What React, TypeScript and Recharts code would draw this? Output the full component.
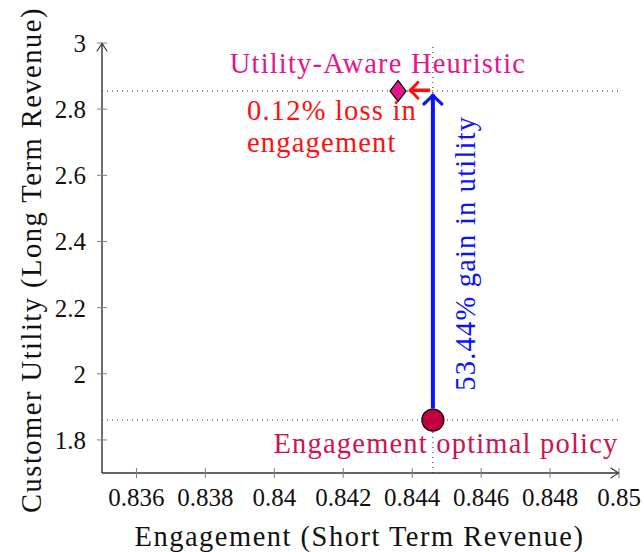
import {
  ScatterChart, Scatter, XAxis, YAxis, ReferenceLine, ReferenceDot,
} from 'recharts'

// engagement (x) and customer utility (y) for the two policies
const policyNames = ['Utility-Aware Heuristic', 'Engagement optimal policy']
const engagement = [0.84359, 0.8446]
const utility = [2.855, 1.86]

const xTicks = [0.836, 0.838, 0.84, 0.842, 0.844, 0.846, 0.848, 0.85]
const yTicks = [1.8, 2, 2.2, 2.4, 2.6, 2.8, 3]
const xDomain = [0.835, 0.85]
const yDomain = [1.7, 3]

// annotation texts and their anchors in data space
const noteText = ['Utility-Aware Heuristic', '0.12% loss in', 'engagement', '53.44% gain in utility', 'Engagement optimal policy']
const noteX = [0.843007, 0.839207, 0.839207, 0.845821, 0.84498]
const noteY = [2.91, 2.7676, 2.6706, 2.3645, 1.7615]

// arrow ends: gain in utility (vertical) and loss in engagement (horizontal)
const gainArrow = [{ x: 0.8446, y: 1.895 }, { x: 0.8446, y: 2.843 }]
const lossArrow = [{ x: 0.84452, y: 2.857 }, { x: 0.843935, y: 2.857 }]

const FONT = 'Liberation Serif, DejaVu Serif, Times New Roman, Tinos, serif'
const MAGENTA = '#e5168d'
const CRIMSON = '#c2003d'
const RED = '#ff1010'
const BLUE = '#0a14f5'

const fmt = (v: number) => String(+v.toFixed(3))

function arrow(color: string, width: number, head: number, len: number) {
  return (p: any) => {
    const { x1, y1, x2, y2 } = p
    const dx = x2 - x1
    const dy = y2 - y1
    const d = Math.hypot(dx, dy) || 1
    const ux = dx / d
    const uy = dy / d
    const nx = -uy
    const ny = ux
    const bx = x2 - len * ux
    const by = y2 - len * uy
    const path = `M${bx + head * nx},${by + head * ny} Q${x2 - len * 0.35 * ux + head * 0.25 * nx},${y2 - len * 0.35 * uy + head * 0.25 * ny} ${x2},${y2} Q${x2 - len * 0.35 * ux - head * 0.25 * nx},${y2 - len * 0.35 * uy - head * 0.25 * ny} ${bx - head * nx},${by - head * ny}`
    return (
      <g>
        <line x1={x1} y1={y1} x2={x2 - ux * width * 0.4} y2={y2 - uy * width * 0.4} stroke={color} strokeWidth={width} />
        <path d={path} fill="none" stroke={color} strokeWidth={width * 0.8} strokeLinecap="round" strokeLinejoin="round" />
      </g>
    )
  }
}

function XTick(p: any) {
  const { x, y, payload } = p
  return (
    <g>
      <line x1={x} y1={y - 5} x2={x} y2={y + 5} stroke="#808080" strokeWidth={1} />
      <text x={x} y={y + 33} textAnchor="middle" style={{ fontFamily: FONT }} fontSize={25} fill="#111">{fmt(payload.value)}</text>
    </g>
  )
}

function YTick(p: any) {
  const { x, y, payload } = p
  return (
    <g>
      <line x1={x - 5} y1={y} x2={x + 5} y2={y} stroke="#808080" strokeWidth={1} />
      <text x={x - 16} y={y + 9} textAnchor="end" style={{ fontFamily: FONT }} fontSize={25} fill="#111">{fmt(payload.value)}</text>
    </g>
  )
}

function Diamond(p: any) {
  const { cx, cy } = p
  return <path d={`M${cx},${cy - 10.5} L${cx + 8},${cy} L${cx},${cy + 10.5} L${cx - 8},${cy} Z`} fill={MAGENTA} stroke="#000" strokeWidth={1.2} />
}

function Dot(p: any) {
  return <circle cx={p.cx} cy={p.cy} r={11} fill={CRIMSON} stroke="#000" strokeWidth={1.2} />
}

const noteStyle = [
  { color: MAGENTA, anchor: 'middle', rotate: false },
  { color: RED, anchor: 'start', rotate: false },
  { color: RED, anchor: 'start', rotate: false },
  { color: BLUE, anchor: 'middle', rotate: true },
  { color: '#cc1450', anchor: 'middle', rotate: false },
]

function note(i: number) {
  return (p: any) => {
    const s = noteStyle[i]
    return (
      <text
        x={p.cx} y={p.cy} textAnchor={s.anchor} style={{ fontFamily: FONT }} fontSize={28.5}
        letterSpacing={1.2} fill={s.color}
        transform={s.rotate ? `rotate(-90 ${p.cx} ${p.cy})` : undefined}
      >
        {noteText[i]}
      </text>
    )
  }
}

const heuristic = [{ name: policyNames[0], x: engagement[0], y: utility[0] }]
const optimal = [{ name: policyNames[1], x: engagement[1], y: utility[1] }]

export default function App() {
  return (
    <div style={{ position: 'absolute', left: 0, top: 0, background: '#fff' }}>
      <ScatterChart width={644} height={552} margin={{ top: 43, right: 25, left: 0, bottom: 0 }}>
        <XAxis
          type="number" dataKey="x" domain={xDomain} ticks={xTicks} height={79}
          axisLine={false} tickLine={false} tickSize={0} tickMargin={0} tick={XTick}
          allowDataOverflow interval={0}
          label={{
            content: (p: any) => (
              <text x={p.viewBox.x + p.viewBox.width / 2 - 1} y={p.viewBox.y + 73} textAnchor="middle"
                style={{ fontFamily: FONT }} fontSize={28.5} letterSpacing={1.5} fill="#111">
                Engagement (Short Term Revenue)
              </text>
            ),
          }}
        />
        <YAxis
          type="number" dataKey="y" domain={yDomain} ticks={yTicks} width={102}
          axisLine={false} tickLine={false} tickSize={0} tickMargin={0} tick={YTick}
          allowDataOverflow interval={0}
          label={{
            content: (p: any) => {
              const cx = 41
              const cy = p.viewBox.y + p.viewBox.height / 2 + 2
              return (
                <text x={cx} y={cy} textAnchor="middle" transform={`rotate(-90 ${cx} ${cy})`}
                  style={{ fontFamily: FONT }} fontSize={28.5} letterSpacing={1.5} fill="#111">
                  Customer Utility (Long Term Revenue)
                </text>
              )
            },
          }}
        />
        <ReferenceLine y={utility[0]} stroke="#222" strokeDasharray="1 4" strokeWidth={1} />
        <ReferenceLine y={utility[1]} stroke="#222" strokeDasharray="1 4" strokeWidth={1} />
        <ReferenceLine x={engagement[1]} stroke="#222" strokeDasharray="1 4" strokeWidth={1} />
        <ReferenceLine segment={[{ x: xDomain[0], y: yDomain[0] }, { x: xDomain[1], y: yDomain[0] }]} shape={arrow('#333', 1.4, 5, 8)} />
        <ReferenceLine segment={[{ x: xDomain[0], y: yDomain[0] }, { x: xDomain[0], y: yDomain[1] }]} shape={arrow('#333', 1.4, 5, 8)} />
        <ReferenceLine segment={gainArrow} shape={arrow(BLUE, 4, 9, 9)} />
        <ReferenceLine segment={lossArrow} shape={arrow(RED, 3.6, 8, 8)} />
        {noteText.map((t, i) => (
          <ReferenceDot key={t} x={noteX[i]} y={noteY[i]} r={0} shape={note(i)} />
        ))}
        <Scatter data={heuristic} shape={Diamond} isAnimationActive={false} />
        <Scatter data={optimal} shape={Dot} isAnimationActive={false} />
      </ScatterChart>
    </div>
  )
}
